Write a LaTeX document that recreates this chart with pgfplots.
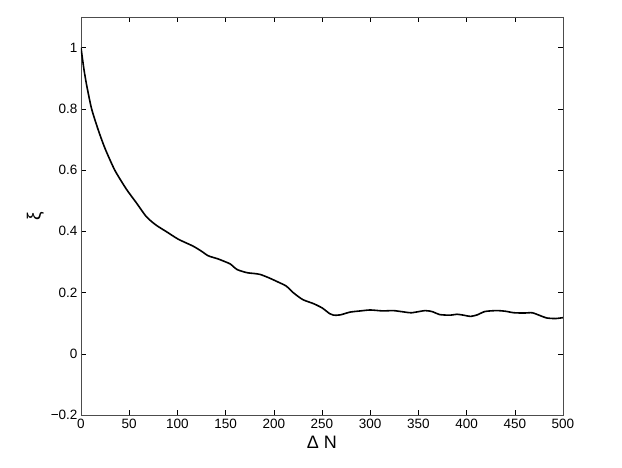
\documentclass[border=0pt]{standalone}
\usepackage{fontspec}
\setmainfont{Liberation Sans}
\usepackage{pgfplots}
\pgfplotsset{compat=1.18}
\begin{document}
\fontsize{13}{15}\selectfont
\begin{tikzpicture}
\path[use as bounding box] (-81pt,-53pt) rectangle (541pt,415pt);
\begin{axis}[
  scale only axis,
  width=482pt, height=398pt,
  xmin=0, xmax=500, ymin=-0.2, ymax=1.1,
  xtick={0,50,...,500},
  ytick={-0.2,0,0.2,0.4,0.6,0.8,1},
  yticklabels={−0.2,0,0.2,0.4,0.6,0.8,1},
  /pgf/number format/assume math mode=true,
  tick align=inside,
  major tick length=5pt,
  tick style={black, line width=0.5pt},
  axis line style={line width=0.6pt, black!70},
  xlabel={Δ N},
  ylabel={ξ},
  xlabel style={font=\fontsize{18}{20}\selectfont, yshift=2pt},
  ylabel style={font=\fontsize{19}{21}\selectfont, yshift=-2pt},
  ticklabel style={font=\fontsize{13.5}{15}\selectfont},
  xticklabel style={yshift=0pt},
  yticklabel style={xshift=1pt},
]
\addplot[black, line width=1.6pt, smooth, tension=0.4] coordinates {
(0,1.00) (3,0.93) (6,0.875) (11,0.80) (18,0.73) (25,0.67) (35,0.60)
(47,0.538) (57,0.495) (68,0.447) (78,0.42) (89,0.398) (101,0.374)
(116,0.352) (125,0.335) (132,0.32) (142,0.31) (150,0.30) (155,0.293)
(162,0.275) (172,0.265) (180,0.262) (186,0.259) (195,0.248) (206,0.232)
(213,0.221) (220,0.20) (230,0.177) (241,0.164) (250,0.15) (258,0.131)
(262,0.126) (269,0.127) (279,0.136) (290,0.14) (300,0.143) (313,0.140)
(324,0.141) (334,0.137) (343,0.134) (357,0.141) (365,0.137) (372,0.128)
(383,0.126) (390,0.129) (397,0.126) (404,0.122) (411,0.127) (419,0.138)
(431,0.141) (440,0.139) (449,0.134) (460,0.133) (468,0.134) (476,0.125)
(483,0.117) (492,0.115) (500,0.118)
};
\end{axis}
\end{tikzpicture}
\end{document}
